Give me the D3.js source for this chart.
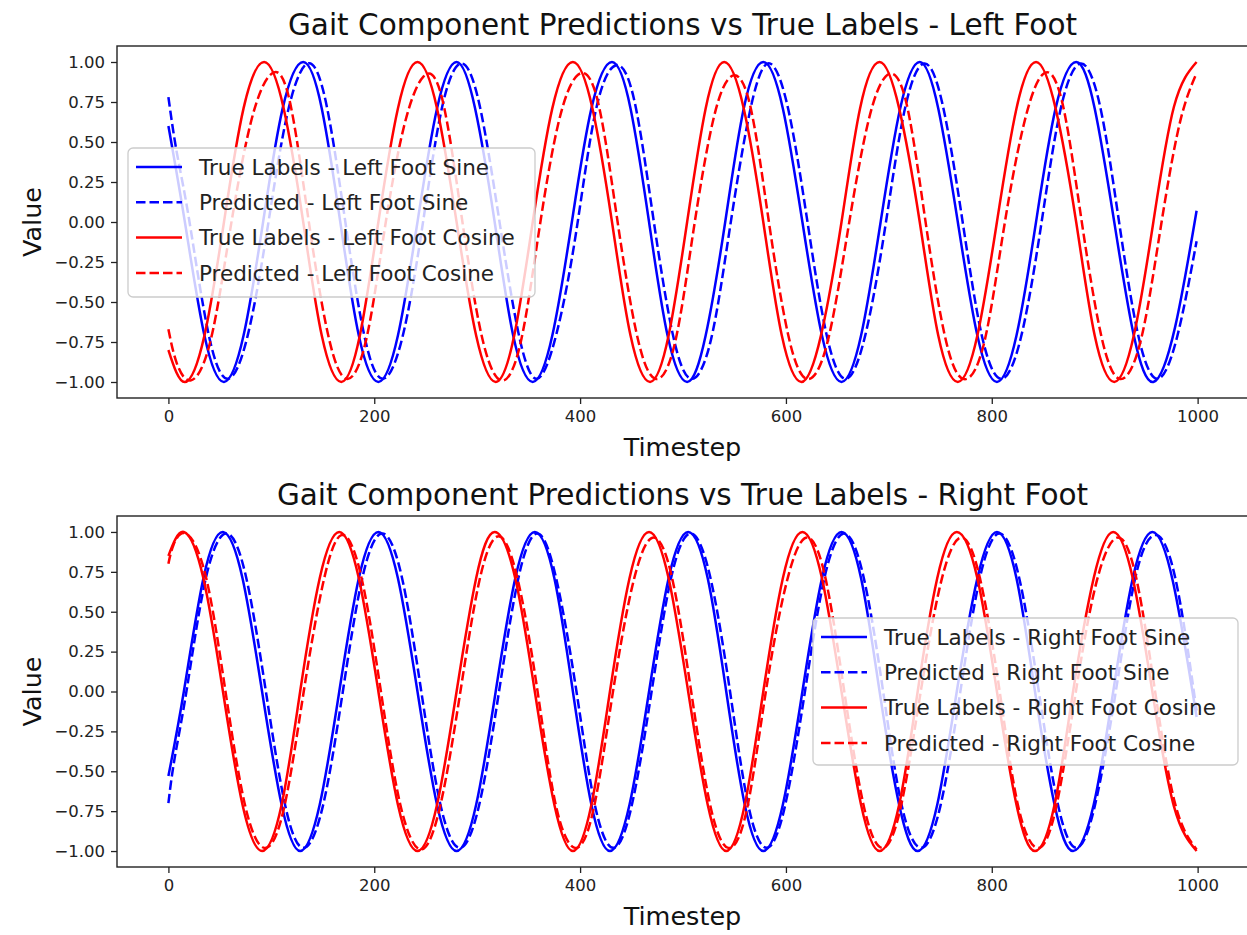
<!DOCTYPE html>
<html>
<head>
<meta charset="utf-8">
<script src="https://d3js.org/d3.v7.min.js"></script>
<style>
  body { margin: 0; background: white; }
</style>
</head>
<body>
<script>

// tick values shared by both panels
var xTicks = [0, 200, 400, 600, 800, 1000];
var yTicks = [-1, -0.75, -0.5, -0.25, 0, 0.25, 0.5, 0.75, 1];

// left foot, [timestep, value]
var lfSineTrue = [[0,0.60],[16,0],[35,-0.71],[54,-1],[73,-0.71],[92,0],[111,0.71],[131,1],[149,0.71],[167,0],[185,-0.71],[204,-1],[223,-0.71],[242,0],[261,0.71],[280,1],[298,0.71],[317,0],[335,-0.71],[354,-1],[373,-0.71],[392,0],[411,0.71],[431,1],[449,0.71],[467,0],[485,-0.71],[504,-1],[522,-0.71],[541,0],[559,0.71],[578,1],[597,0.71],[616,0],[635,-0.71],[654,-1],[673,-0.71],[692,0],[711,0.71],[730,1],[748,0.71],[767,0],[786,-0.71],[805,-1],[824,-0.71],[843,0],[862,0.71],[882,1],[900,0.71],[919,0],[938,-0.71],[957,-1],[978,-0.66],[999,0.07]];
var lfSinePred = [[0,0.78],[8,0.44],[20,0.02],[39,-0.70],[58,-0.98],[77,-0.71],[96,-0.05],[115,0.66],[135,0.99],[153,0.75],[171,0.04],[190,-0.70],[208,-0.98],[227,-0.73],[246,-0.06],[265,0.69],[284,0.99],[302,0.74],[321,0.03],[340,-0.69],[358,-0.98],[377,-0.70],[396,-0.07],[415,0.69],[435,0.98],[453,0.75],[471,0.03],[490,-0.70],[508,-0.98],[527,-0.74],[545,-0.06],[564,0.66],[582,0.99],[601,0.74],[620,0.04],[639,-0.69],[658,-0.98],[677,-0.71],[696,-0.05],[715,0.69],[734,0.99],[752,0.74],[771,0.03],[790,-0.70],[809,-0.98],[828,-0.73],[847,-0.06],[866,0.68],[886,0.99],[905,0.73],[923,0.03],[942,-0.70],[961,-0.98],[980,-0.72],[999,-0.12]];
var lfCosTrue = [[0,-0.80],[16,-1],[35,-0.71],[54,0],[73,0.71],[93,1],[112,0.71],[131,0],[149,-0.71],[168,-1],[186,-0.71],[204,0],[223,0.71],[242,1],[261,0.71],[280,0],[299,-0.71],[318,-1],[336,-0.71],[354,0],[373,0.71],[393,1],[412,0.71],[431,0],[449,-0.71],[468,-1],[486,-0.71],[504,0],[522,0.71],[540,1],[559,0.71],[578,0],[596,-0.71],[615,-1],[634,-0.71],[654,0],[672,0.71],[691,1],[710,0.71],[730,0],[748,-0.71],[767,-1],[786,-0.71],[805,0],[824,0.71],[843,1],[862,0.71],[882,0],[900,-0.71],[919,-1],[938,-0.71],[957,0],[977,0.72],[999,1.0]];
var lfCosPred = [[0,-0.67],[8,-0.88],[22,-0.99],[41,-0.74],[60,-0.05],[80,0.62],[99,0.92],[117,0.78],[136,0.02],[155,-0.70],[173,-0.98],[192,-0.74],[210,-0.05],[229,0.60],[248,0.91],[266,0.77],[285,0.03],[304,-0.70],[323,-0.99],[342,-0.76],[360,-0.06],[379,0.62],[398,0.92],[417,0.76],[436,0.02],[455,-0.70],[473,-0.98],[492,-0.76],[510,-0.06],[528,0.60],[545,0.90],[564,0.76],[583,0.02],[602,-0.70],[620,-0.98],[640,-0.76],[660,-0.06],[679,0.60],[697,0.91],[716,0.77],[735,0.03],[754,-0.70],[772,-0.98],[792,-0.77],[811,-0.07],[830,0.58],[849,0.92],[868,0.76],[887,0.02],[906,-0.70],[924,-0.98],[944,-0.76],[963,-0.08],[982,0.60],[999,0.93]];

// right foot
var rfSineTrue = [[0,-0.53],[15,0],[34,0.71],[53,1],[72,0.71],[91,0],[110,-0.71],[128,-1],[147,-0.71],[166,0],[185,0.71],[204,1],[223,0.71],[242,0],[261,-0.71],[280,-1],[299,-0.71],[318,0],[337,0.71],[356,1],[375,0.71],[393,0],[411,-0.71],[429,-1],[448,-0.71],[467,0],[486,0.71],[505,1],[524,0.71],[542,0],[560,-0.71],[578,-1],[597,-0.71],[616,0],[635,0.71],[654,1],[673,0.71],[691,0],[710,-0.71],[728,-1],[747,-0.71],[766,0],[786,0.71],[805,1],[824,0.71],[842,0],[861,-0.71],[879,-1],[899,-0.71],[918,0],[937,0.71],[956,1],[976,0.69],[999,-0.16]];
var rfSinePred = [[0,-0.70],[6,-0.42],[18,0.02],[36,0.70],[56,0.99],[75,0.73],[94,0.03],[113,-0.70],[131,-0.98],[150,-0.72],[169,-0.02],[188,0.70],[207,0.99],[226,0.74],[245,0.03],[264,-0.70],[283,-0.98],[302,-0.71],[321,-0.01],[340,0.71],[358,0.99],[376,0.73],[396,0.02],[414,-0.70],[432,-0.98],[450,-0.72],[469,-0.02],[488,0.70],[507,0.99],[526,0.73],[545,0.03],[563,-0.70],[581,-0.98],[599,-0.72],[618,-0.02],[637,0.70],[656,0.99],[675,0.73],[694,0.02],[712,-0.70],[731,-0.98],[750,-0.72],[769,-0.02],[788,0.70],[807,0.99],[826,0.73],[845,0.03],[864,-0.70],[882,-0.98],[900,-0.72],[920,-0.02],[939,0.70],[958,0.98],[978,0.72],[999,-0.12]];
var rfCosTrue = [[0,0.85],[15,1],[34,0.71],[53,0],[72,-0.71],[91,-1],[110,-0.71],[128,0],[147,0.71],[166,1],[185,0.71],[204,0],[223,-0.71],[242,-1],[261,-0.71],[280,0],[299,0.71],[317,1],[337,0.71],[356,0],[375,-0.71],[393,-1],[411,-0.71],[429,0],[448,0.71],[467,1],[486,0.71],[505,0],[524,-0.71],[542,-1],[560,-0.71],[578,0],[597,0.71],[616,1],[635,0.71],[654,0],[673,-0.71],[691,-1],[710,-0.71],[728,0],[747,0.71],[766,1],[786,0.71],[805,0],[824,-0.71],[842,-1],[861,-0.71],[879,0],[899,0.71],[918,1],[937,0.71],[956,0],[977,-0.72],[999,-1]];
var rfCosPred = [[0,0.80],[5,0.92],[17,0.99],[36,0.73],[55,0.02],[74,-0.70],[93,-0.98],[112,-0.74],[131,-0.02],[150,0.67],[168,0.98],[187,0.73],[206,0.02],[225,-0.70],[245,-0.99],[264,-0.72],[283,-0.03],[301,0.66],[319,0.97],[338,0.74],[358,0.03],[376,-0.70],[395,-0.98],[413,-0.74],[431,-0.04],[450,0.64],[469,0.96],[488,0.75],[507,0.04],[526,-0.70],[544,-0.98],[562,-0.74],[580,-0.02],[599,0.64],[618,0.96],[637,0.75],[656,0.03],[675,-0.70],[693,-0.98],[711,-0.74],[730,-0.04],[749,0.64],[768,0.96],[787,0.75],[807,0.03],[825,-0.70],[844,-0.98],[862,-0.74],[881,-0.03],[900,0.64],[920,0.96],[939,0.75],[958,0.03],[978,-0.70],[999,-0.99]];

var lfLabels = ["True Labels - Left Foot Sine", "Predicted - Left Foot Sine", "True Labels - Left Foot Cosine", "Predicted - Left Foot Cosine"];
var rfLabels = ["True Labels - Right Foot Sine", "Predicted - Right Foot Sine", "True Labels - Right Foot Cosine", "Predicted - Right Foot Cosine"];


var width = 1247;
var height = 935;
var font = "DejaVu Sans, Verdana, sans-serif";

var canvas = d3.select("body").append("svg")
    .attr("width", width)
    .attr("height", height);

canvas.append("rect")
    .attr("width", "100%")
    .attr("height", "100%")
    .attr("fill", "white");

// x extent as matplotlib pads it (5% each side)
var x = d3.scaleLinear().domain([-49.95, 1048.95]).range([117, 1248]);

function drawPanel(top, bottom, title, series, labels, legend) {
    var y = d3.scaleLinear().domain([-1.1, 1.1]).range([bottom, top]);
    var g = canvas.append("g");

    var clipId = "clip" + top;
    g.append("clipPath").attr("id", clipId)
        .append("rect")
        .attr("x", x.range()[0]).attr("y", top)
        .attr("width", x.range()[1] - x.range()[0])
        .attr("height", bottom - top);

    var line = d3.line()
        .x(function(d) { return x(d[0]); })
        .y(function(d) { return y(d[1]); })
        .curve(d3.curveNatural);

    var colors = ["blue", "blue", "red", "red"];
    var plot = g.append("g").attr("clip-path", "url(#" + clipId + ")");
    series.forEach(function(s, i) {
        plot.append("path")
            .attr("d", line(s))
            .attr("fill", "none")
            .attr("stroke", colors[i])
            .attr("stroke-width", 2.5)
            .attr("stroke-dasharray", i % 2 == 1 ? "9.5,4" : null)
            .attr("stroke-linejoin", "round");
    });

    // axes
    var xAxis = d3.axisBottom(x).tickValues(xTicks).tickSize(6).tickPadding(6)
        .tickFormat(d3.format("d"));
    var yAxis = d3.axisLeft(y).tickValues(yTicks).tickSize(6).tickPadding(6)
        .tickFormat(function(d) { return d3.format(".2f")(d).replace("-", "\u2212"); });

    var gx = g.append("g").attr("transform", "translate(0," + bottom + ")").call(xAxis);
    var gy = g.append("g").attr("transform", "translate(" + x.range()[0] + ",0)").call(yAxis);
    [gx, gy].forEach(function(a) {
        a.select(".domain").remove();
        a.selectAll(".tick line").attr("stroke", "#222").attr("stroke-width", 1.3);
        a.selectAll(".tick text")
            .attr("font-family", font)
            .attr("font-size", "16.5px")
            .attr("fill", "#222");
    });

    // spines
    g.append("rect")
        .attr("x", x.range()[0]).attr("y", top)
        .attr("width", x.range()[1] - x.range()[0])
        .attr("height", bottom - top)
        .attr("fill", "none")
        .attr("stroke", "#222")
        .attr("stroke-width", 1.4);

    var cx = (x.range()[0] + x.range()[1]) / 2;
    g.append("text")
        .attr("x", cx).attr("y", top - 11)
        .attr("text-anchor", "middle")
        .attr("font-family", font).attr("font-size", "29.5px")
        .attr("fill", "#111")
        .text(title);

    g.append("text")
        .attr("x", cx).attr("y", bottom + 58)
        .attr("text-anchor", "middle")
        .attr("font-family", font).attr("font-size", "25.5px")
        .attr("fill", "#111")
        .text("Timestep");

    g.append("text")
        .attr("transform", "translate(41," + ((top + bottom) / 2) + ") rotate(-90)")
        .attr("text-anchor", "middle")
        .attr("font-family", font).attr("font-size", "25.5px")
        .attr("fill", "#111")
        .text("Value");

    // legend
    var lg = g.append("g").attr("transform", "translate(" + legend.x + "," + legend.y + ")");
    lg.append("rect")
        .attr("width", legend.w).attr("height", legend.h)
        .attr("rx", 5)
        .attr("fill", "white").attr("fill-opacity", 0.8)
        .attr("stroke", "#cccccc").attr("stroke-width", 1.3);

    labels.forEach(function(lab, i) {
        var ly = 19 + i * 35.3;
        lg.append("line")
            .attr("x1", 8).attr("x2", 54)
            .attr("y1", ly).attr("y2", ly)
            .attr("stroke", colors[i])
            .attr("stroke-width", 2.5)
            .attr("stroke-dasharray", i % 2 == 1 ? "9.5,4" : null);
        lg.append("text")
            .attr("x", 71).attr("y", ly).attr("dy", "0.36em")
            .attr("font-family", font).attr("font-size", "21.5px")
            .attr("fill", "#222")
            .text(lab);
    });
}

drawPanel(46, 398, "Gait Component Predictions vs True Labels - Left Foot",
    [lfSineTrue, lfSinePred, lfCosTrue, lfCosPred], lfLabels,
    {x: 128, y: 148, w: 407, h: 149});

drawPanel(516, 867, "Gait Component Predictions vs True Labels - Right Foot",
    [rfSineTrue, rfSinePred, rfCosTrue, rfCosPred], rfLabels,
    {x: 813, y: 618, w: 425, h: 147});

</script>
</body>
</html>
